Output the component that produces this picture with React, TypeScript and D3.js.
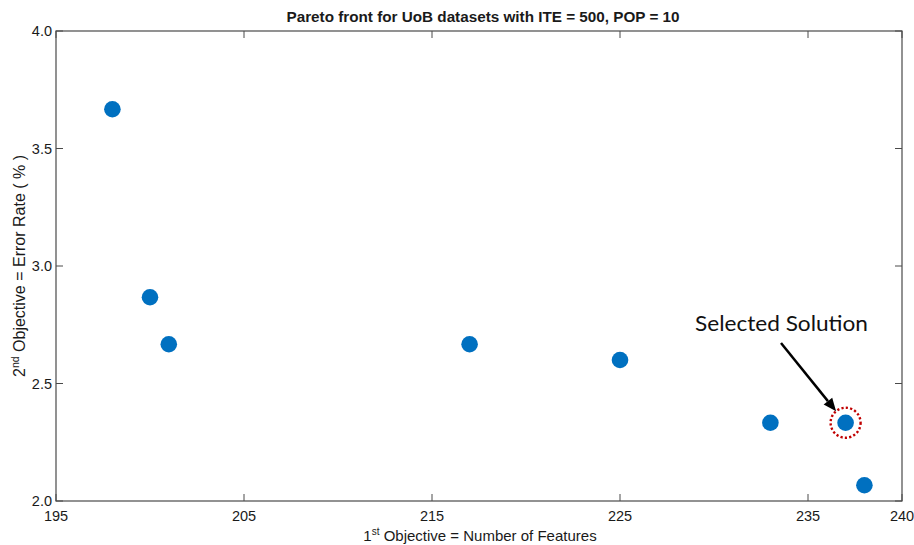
import React from "react";
import * as d3 from "d3";

const featureCounts = [198, 200, 201, 217, 225, 233, 237, 238];
const errorRates = [3.667, 2.867, 2.667, 2.667, 2.6, 2.333, 2.333, 2.067];
const xTicks = [195, 205, 215, 225, 235, 240];
const yTicks = [2.0, 2.5, 3.0, 3.5, 4.0];
const selectedIndex = 6;
const titleText = "Pareto front for UoB datasets with ITE = 500, POP = 10";
const annotationText = "Selected Solution";

const W = 914;
const H = 545;
const left = 56, right = 902, top = 31, bottom = 501;

export default function App() {
  const x = d3.scaleLinear().domain([195, 240]).range([left, right]);
  const y = d3.scaleLinear().domain([2.0, 4.0]).range([bottom, top]);
  const axisColor = "#4a4a4a";
  const textColor = "#1a1a1a";
  const tickLen = 7;
  const font = "'Liberation Sans', Arial, sans-serif";

  const sx = x(featureCounts[selectedIndex]);
  const sy = y(errorRates[selectedIndex]);

  const ax1 = 781, ay1 = 343;
  const ax2 = sx - 9.5, ay2 = sy - 11.5;
  const ang = Math.atan2(ay2 - ay1, ax2 - ax1);
  const headLen = 13, headW = 5.5;
  const bx = ax2 - headLen * Math.cos(ang);
  const by = ay2 - headLen * Math.sin(ang);
  const px = -Math.sin(ang), py = Math.cos(ang);
  const head = `${ax2},${ay2} ${bx + px * headW},${by + py * headW} ${bx - px * headW},${by - py * headW}`;

  return (
    <svg width={W} height={H} style={{ position: "absolute", left: 0, top: 0, background: "#fff" }}>
      <rect x={0} y={0} width={W} height={H} fill="#fff" />
      <text x={483} y={22} textAnchor="middle" fontFamily={font} fontWeight="bold" fontSize={14}
        fill={textColor} textLength={393} lengthAdjust="spacingAndGlyphs">{titleText}</text>

      <rect x={left} y={top} width={right - left} height={bottom - top} fill="none" stroke={axisColor} strokeWidth={1.2} />

      {xTicks.map((t) => (
        <g key={"xt" + t}>
          <line x1={x(t)} x2={x(t)} y1={bottom} y2={bottom - tickLen} stroke={axisColor} strokeWidth={1} />
          <line x1={x(t)} x2={x(t)} y1={top} y2={top + tickLen} stroke={axisColor} strokeWidth={1} />
          <text x={x(t)} y={521} textAnchor="middle" fontFamily={font} fontSize={14.5} fill={textColor}>{t}</text>
        </g>
      ))}

      {yTicks.map((t) => (
        <g key={"yt" + t}>
          <line x1={left} x2={left + tickLen} y1={y(t)} y2={y(t)} stroke={axisColor} strokeWidth={1} />
          <line x1={right} x2={right - tickLen} y1={y(t)} y2={y(t)} stroke={axisColor} strokeWidth={1} />
          <text x={52} y={y(t) + 5} textAnchor="end" fontFamily={font} fontSize={14.5} fill={textColor}>{t.toFixed(1)}</text>
        </g>
      ))}

      <text x={480} y={541} textAnchor="middle" fontFamily={font} fontSize={15} fill={textColor}>
        1<tspan fontSize={10} dy={-6}>st</tspan><tspan dy={6}> Objective = Number of Features</tspan>
      </text>

      <text transform={`translate(25, ${(top + bottom) / 2}) rotate(-90)`} textAnchor="middle" fontFamily={font}
        fontSize={16} fill={textColor}>
        2<tspan fontSize={10.5} dy={-6}>nd</tspan><tspan dy={6}> Objective = Error Rate ( % )</tspan>
      </text>

      {featureCounts.map((fc, i) => (
        <circle key={"p" + i} cx={x(fc)} cy={y(errorRates[i])} r={8.3} fill="#0070C0" />
      ))}

      <circle cx={sx} cy={sy} r={15} fill="none" stroke="#C00000" strokeWidth={2.4} strokeDasharray="2.2 2.2" />

      <line x1={ax1} y1={ay1} x2={bx} y2={by} stroke="#000" strokeWidth={2.5} />
      <polygon points={head} fill="#000" />

      <text x={695} y={331} fontFamily="Lato, 'Open Sans', sans-serif" fontSize={22} fill="#111"
        textLength={173} lengthAdjust="spacingAndGlyphs">{annotationText}</text>
    </svg>
  );
}
